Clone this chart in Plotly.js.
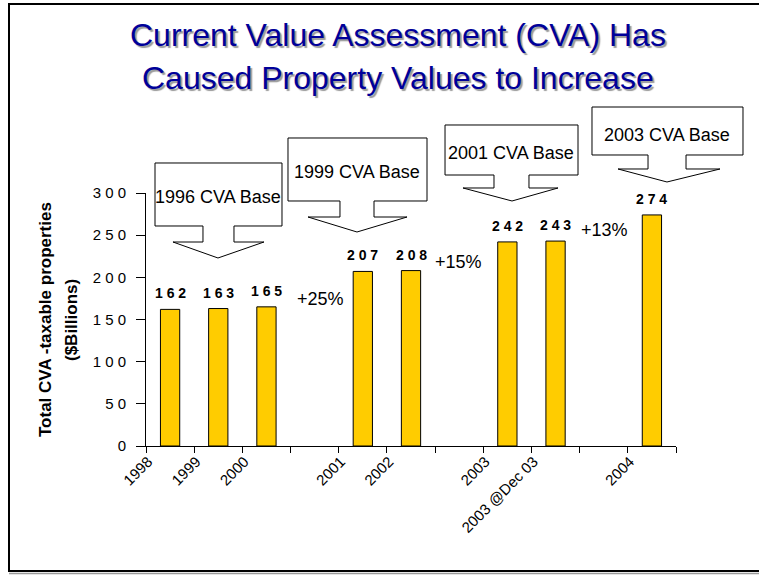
<!DOCTYPE html>
<html>
<head>
<meta charset="utf-8">
<script src="https://cdn.plot.ly/plotly-3.0.1.min.js"></script>
<style>
  body { margin: 0; background: #fff; }
  #myPlot { width: 759px; height: 575px; }
</style>
</head>
<body>
<div id="myPlot"></div>
<script>
// Data
var categories = ["1998", "1999", "2000", " ", "2001", "2002", "  ", "2003", "2003 @Dec 03", "   ", "2004"];
var values = [162, 163, 165, null, 207, 208, null, 242, 243, null, 274];
var yTicks = [0, 50, 100, 150, 200, 250, 300];
var baseLabels = ["1996 CVA Base", "1999 CVA Base", "2001 CVA Base", "2003 CVA Base"];
var changeLabels = ["+25%", "+15%", "+13%"];
var titleLines = ["Current Value Assessment (CVA) Has", "Caused Property Values to Increase"];
var yTitleLines = ["Total CVA -taxable properties", "($Billions)"];

var FONT = "Liberation Sans, Arial, sans-serif";

// plot area in pixels
var L = 146, R = 676, T = 193, B = 446;
function px(x) { return (x - L) / (R - L); }
function py(y) { return (B - y) / (B - T); }

function spaced(v, sep) { return String(v).split("").join(sep); }

var data = [{
    type: "bar",
    x: categories,
    y: values,
    width: 0.4,
    marker: { color: "#FFCC00", line: { color: "#000", width: 1 } },
    hoverinfo: "skip"
}];

var annotations = [];

// value labels above bars (x given as category index)
categories.forEach(function (c, i) {
    if (values[i] === null) return;
    annotations.push({
        x: i, y: values[i], xref: "x", yref: "y",
        text: spaced(values[i], " "),
        showarrow: false, yanchor: "bottom", yshift: 6,
        font: { family: FONT, size: 14, color: "#000", weight: "bold" }
    });
});

// callout boxes (down arrow callouts)
var callouts = [
    { r: [155, 163, 282, 226], stem: [203, 234], headY: 242, head: [173, 264], tip: [218, 258], tx: 218, ty: 197 },
    { r: [288, 138, 427, 201], stem: [340, 374], headY: 217, head: [308, 407], tip: [357, 232], tx: 357, ty: 172 },
    { r: [445, 125, 578, 175], stem: [494, 529], headY: 188, head: [463, 558], tip: [512, 201], tx: 511, ty: 153 },
    { r: [592, 107, 743, 155], stem: [648, 686], headY: 169, head: [618, 720], tip: [667, 182], tx: 667, ty: 135 }
];

var shapes = [];
callouts.forEach(function (c, i) {
    var pts = [
        [c.r[0], c.r[1]], [c.r[2], c.r[1]], [c.r[2], c.r[3]], [c.stem[1], c.r[3]],
        [c.stem[1], c.headY], [c.head[1], c.headY], [c.tip[0], c.tip[1]], [c.head[0], c.headY],
        [c.stem[0], c.headY], [c.stem[0], c.r[3]], [c.r[0], c.r[3]]
    ];
    var path = pts.map(function (p, k) { return (k ? "L" : "M") + px(p[0]).toFixed(4) + "," + py(p[1]).toFixed(4); }).join(" ") + " Z";
    shapes.push({ type: "path", xref: "paper", yref: "paper", path: path,
        fillcolor: "#fff", line: { color: "#000", width: 1 }, layer: "above" });
    annotations.push({
        xref: "paper", yref: "paper", x: px(c.tx), y: py(c.ty),
        text: baseLabels[i], showarrow: false, xanchor: "center", yanchor: "middle",
        font: { family: FONT, size: 18, color: "#000" }
    });
});

// growth labels
var changePos = [[320, 299], [458, 262], [604, 230]];
changeLabels.forEach(function (t, i) {
    annotations.push({
        xref: "paper", yref: "paper", x: px(changePos[i][0]), y: py(changePos[i][1]),
        text: t, showarrow: false, xanchor: "center", yanchor: "middle",
        font: { family: FONT, size: 18, color: "#000" }
    });
});

// title (two lines, shadowed)
var titleY = [35, 78];
titleLines.forEach(function (t, i) {
    annotations.push({
        xref: "paper", yref: "paper", x: px(398), y: py(titleY[i]),
        text: t, showarrow: false, xanchor: "center", yanchor: "middle",
        font: { family: FONT, size: 32, color: "#000099", shadow: "2px 2px 1px #9a9a9a" }
    });
});

// y axis title
var yTitleX = [45, 71];
yTitleLines.forEach(function (t, i) {
    annotations.push({
        xref: "paper", yref: "paper", x: px(yTitleX[i]), y: py(320),
        text: t, showarrow: false, textangle: -90, xanchor: "center", yanchor: "middle",
        font: { family: FONT, size: 17, color: "#000", weight: "bold" }
    });
});

// slide border
shapes.push({ type: "rect", xref: "paper", yref: "paper",
    x0: px(9), x1: px(765), y0: py(571), y1: py(4),
    line: { color: "#000", width: 2 }, layer: "below" });
shapes.push({ type: "line", xref: "paper", yref: "paper",
    x0: px(9), x1: px(765), y0: py(573.5), y1: py(573.5),
    line: { color: "#999", width: 1.5 } });

var layout = {
    width: 759, height: 575,
    margin: { l: L, r: 759 - R, t: T, b: 575 - B, pad: 0 },
    paper_bgcolor: "#fff", plot_bgcolor: "#fff",
    showlegend: false,
    xaxis: {
        type: "category",
        categoryorder: "array", categoryarray: categories,
        range: [-0.5, categories.length - 0.5],
        showline: true, linecolor: "#000", linewidth: 1,
        showgrid: false, zeroline: false,
        ticks: "outside", tickson: "boundaries", ticklen: 6, tickcolor: "#000", tickwidth: 1,
        tickangle: -45, ticklabelshift: -22,
        tickfont: { family: FONT, size: 15, color: "#000" },
        fixedrange: true
    },
    yaxis: {
        range: [0, 300],
        tickvals: yTicks,
        ticktext: yTicks.map(function (v) { return spaced(v, " "); }),
        showline: true, linecolor: "#000", linewidth: 1,
        showgrid: false, zeroline: false,
        ticks: "outside", ticklen: 9, tickcolor: "#000", tickwidth: 1,
        ticklabelstandoff: 7,
        tickfont: { family: FONT, size: 15, color: "#000" },
        fixedrange: true
    },
    annotations: annotations,
    shapes: shapes
};

Plotly.newPlot("myPlot", data, layout, { displayModeBar: false, staticPlot: true });
</script>
</body>
</html>
